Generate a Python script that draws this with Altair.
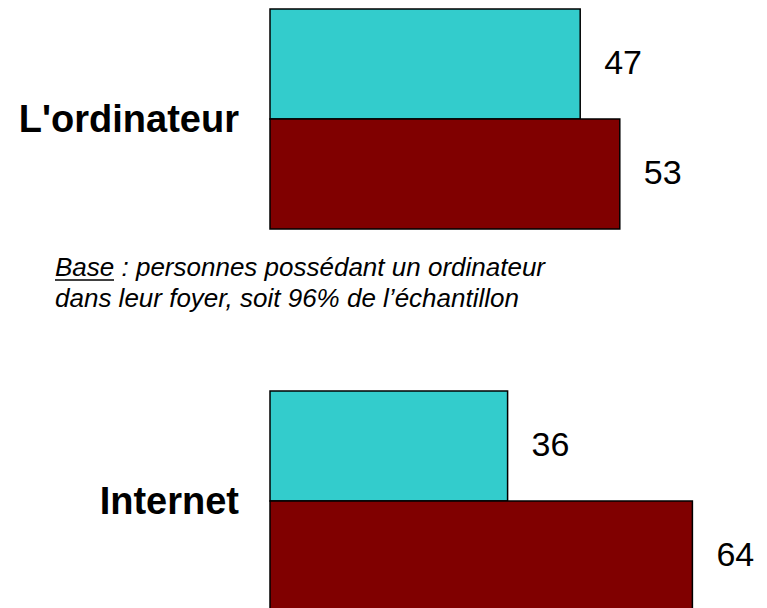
import altair as alt
import pandas as pd

# ---- data ----
groups = ["L'ordinateur", "Internet"]
series = ["Série 1", "Série 2"]
values_ordinateur = [47, 53]
values_internet = [36, 64]
colors = ["#33CCCC", "#800000"]
footnote_lines = [
    "Base : personnes possédant un ordinateur",
    "dans leur foyer, soit 96% de l\u2019échantillon",
]

FONT = "Liberation Sans"


def panel(group, values, with_note=False):
    df = pd.DataFrame({"group": [group] * len(series), "series": series, "value": values})
    base = alt.Chart(df)
    x = alt.X("value:Q", scale=alt.Scale(domain=[0, 100], range=[262, 922]), axis=None)
    y = alt.Y(
        "series:N",
        scale=alt.Scale(domain=series, paddingInner=0, paddingOuter=0),
        axis=None,
    )
    bars = base.mark_bar(stroke="black", strokeWidth=1.5).encode(
        x=x,
        y=y,
        color=alt.Color("series:N", scale=alt.Scale(domain=series, range=colors), legend=None),
    )
    labels = base.mark_text(
        align="left", baseline="middle", dx=24, fontSize=34, font=FONT, color="black"
    ).encode(x=x, y=y, text="value:Q")
    gl = alt.Chart(pd.DataFrame({"group": [group]})).mark_text(
        align="right", baseline="middle", fontSize=38, fontWeight="bold", font=FONT, color="black"
    ).encode(text="group:N", x=alt.value(231), y=alt.value(112))
    layers = [bars, labels, gl]
    if with_note:
        note = alt.Chart(pd.DataFrame({"t": ["\n".join(footnote_lines)]})).mark_text(
            align="left", baseline="alphabetic", fontSize=26, fontStyle="italic",
            font=FONT, color="black", lineBreak="\n", lineHeight=31,
        ).encode(text="t:N", x=alt.value(47), y=alt.value(267))
        underline = alt.Chart(pd.DataFrame({"t": ["Base"]})).mark_rule(
            color="black", strokeWidth=1.5
        ).encode(x=alt.value(47), x2=alt.value(106), y=alt.value(271))
        layers += [note, underline]
    return alt.layer(*layers).properties(width=745, height=220)


top = panel(groups[0], values_ordinateur, with_note=True)
bottom = panel(groups[1], values_internet)

chart = (
    alt.vconcat(top, bottom, spacing=162, bounds="flush")
    .properties(padding=0, background="white")
    .configure_view(stroke=None)
)

chart.save("out.html", embed_options={"renderer": "svg", "actions": False})
